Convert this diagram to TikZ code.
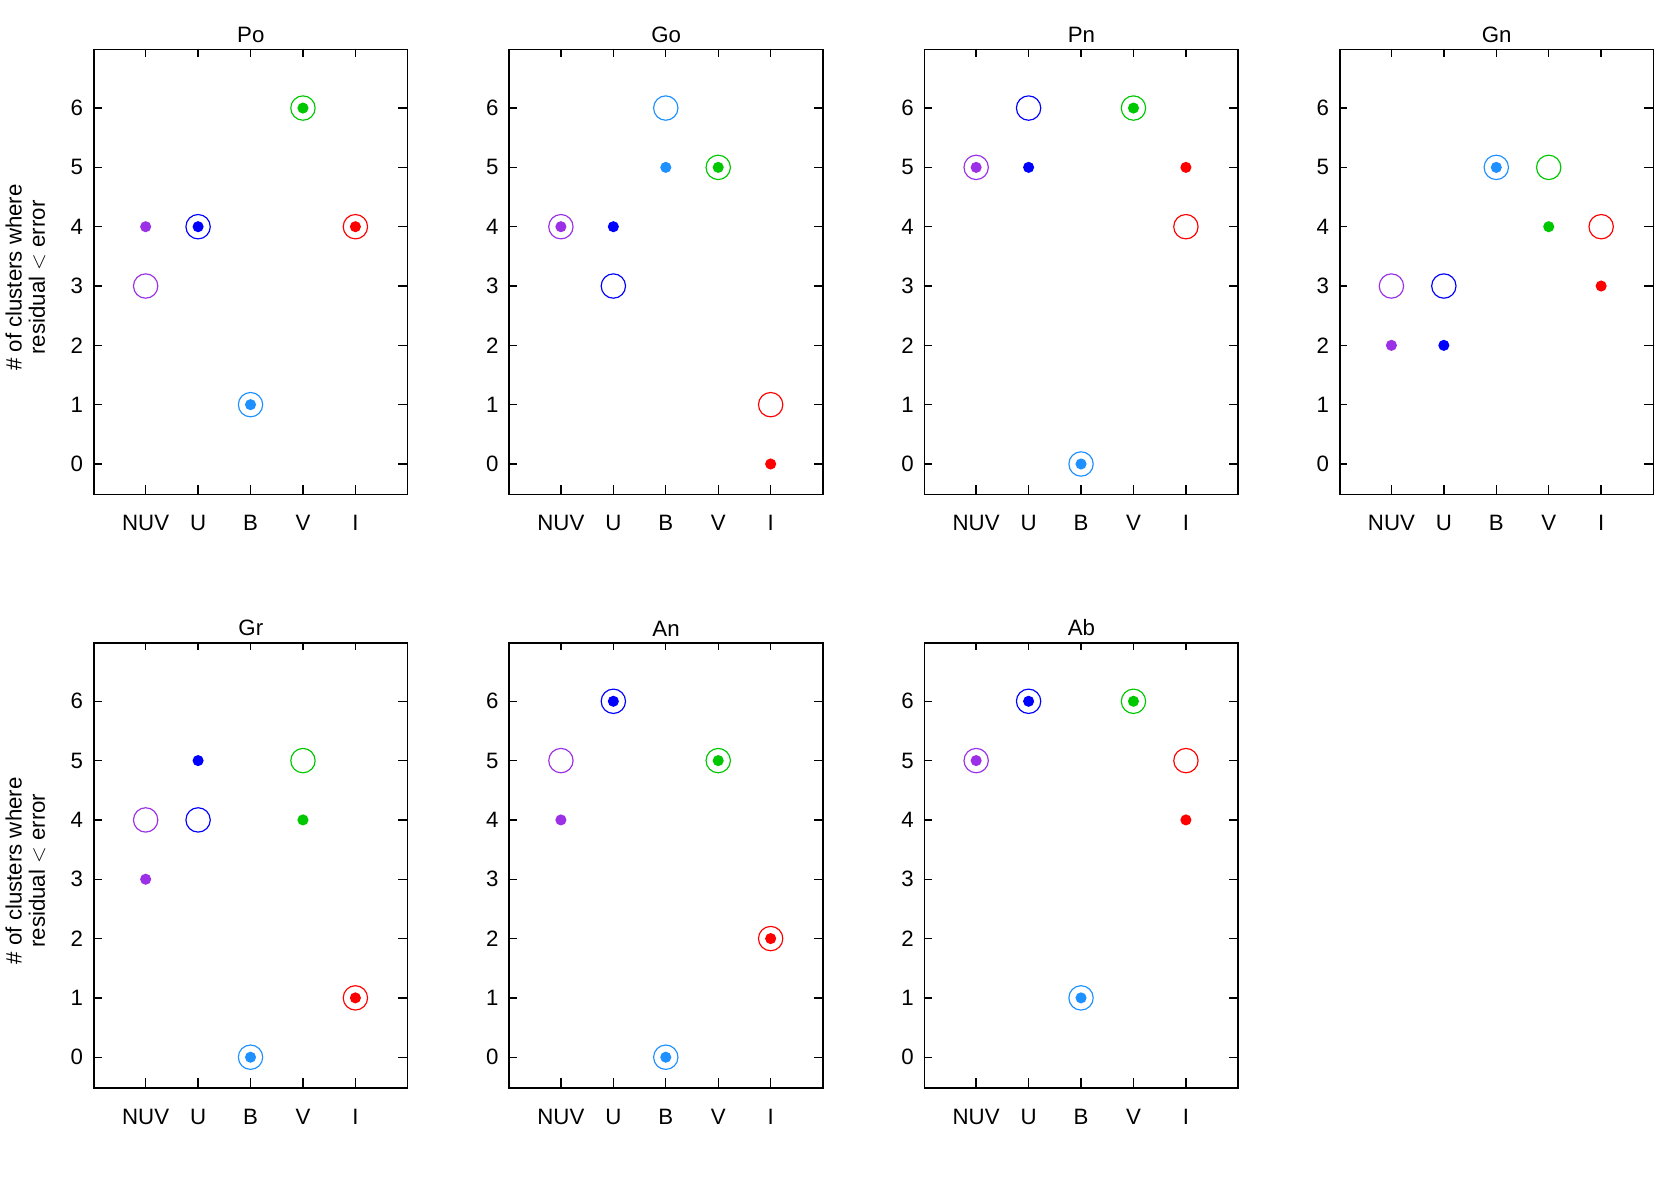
\documentclass[tikz,border=0pt]{standalone}
\usepackage{fontspec}
\setmainfont{Liberation Sans}
\usetikzlibrary{positioning}
\definecolor{cnuv}{RGB}{155,48,230}
\definecolor{cu}{RGB}{0,0,255}
\definecolor{cb}{RGB}{30,144,255}
\definecolor{cv}{RGB}{0,200,0}
\definecolor{ci}{RGB}{255,0,0}
\begin{document}
\begin{tikzpicture}[x=1pt,y=-1pt,font=\fontsize{21}{24}\selectfont]
			% Define styles
			\tikzset{frame/.style={draw, line width=1.6pt},
				tick/.style={line width=1.3pt},
				ring/.style={draw, circle, line width=1.1pt, minimum size=23pt, inner sep=0pt},
				dot/.style={circle, inner sep=0pt, minimum size=10.5pt}}
			\useasboundingbox (0,0) rectangle (1568,1120);
			
			% Macro to draw one panel: title, rings, dots (band/value)
			\def\drawpanel#1#2#3{
				\node[frame, minimum width=296pt, minimum height=420pt, anchor=north west] (box) at (88,46) {};
				\node[above=2pt of box.north] (ttl) {#1};
				\foreach \v in {0,...,6} {
					\draw[tick] (88,438-56*\v) -- +(8,0);
					\draw[tick] (384,438-56*\v) -- +(-8,0);
					\node[anchor=east] (yl-\v) at (82,438-56*\v) {\v};
				}
				\foreach \b/\t in {1/NUV,2/U,3/B,4/V,5/I} {
					\draw[tick] (88+49.5*\b,466) -- +(0,-8);
					\draw[tick] (88+49.5*\b,46) -- +(0,8);
					\node (xl-\b) at (88+49.5*\b,494) {\t};
				}
				\foreach \b/\v/\c in {#2} \node[ring, \c] (r-\b) at (88+49.5*\b,438-56*\v) {};
				\foreach \b/\v/\c in {#3} \node[dot, fill=\c] (d-\b) at (88+49.5*\b,438-56*\v) {};
			}
			\def\ylab{\node[rotate=90, align=center, font=\fontsize{21}{22}\selectfont] (ylab) at (24,262) {\# of clusters where\\residual $<$ error};}
			
			% Row 1
			\begin{scope}[xshift=0pt]
				\drawpanel{Po}{1/3/cnuv,2/4/cu,3/1/cb,4/6/cv,5/4/ci}{1/4/cnuv,2/4/cu,3/1/cb,4/6/cv,5/4/ci}
				\ylab
			\end{scope}
			\begin{scope}[xshift=392pt]
				\drawpanel{Go}{1/4/cnuv,2/3/cu,3/6/cb,4/5/cv,5/1/ci}{1/4/cnuv,2/4/cu,3/5/cb,4/5/cv,5/0/ci}
			\end{scope}
			\begin{scope}[xshift=784pt]
				\drawpanel{Pn}{1/5/cnuv,2/6/cu,3/0/cb,4/6/cv,5/4/ci}{1/5/cnuv,2/5/cu,3/0/cb,4/6/cv,5/5/ci}
			\end{scope}
			\begin{scope}[xshift=1176pt]
				\drawpanel{Gn}{1/3/cnuv,2/3/cu,3/5/cb,4/5/cv,5/4/ci}{1/2/cnuv,2/2/cu,3/5/cb,4/4/cv,5/3/ci}
			\end{scope}
			
			% Row 2
			\begin{scope}[yshift=-560pt]
				\drawpanel{Gr}{1/4/cnuv,2/4/cu,3/0/cb,4/5/cv,5/1/ci}{1/3/cnuv,2/5/cu,3/0/cb,4/4/cv,5/1/ci}
				\ylab
			\end{scope}
			\begin{scope}[xshift=392pt, yshift=-560pt]
				\drawpanel{An}{1/5/cnuv,2/6/cu,3/0/cb,4/5/cv,5/2/ci}{1/4/cnuv,2/6/cu,3/0/cb,4/5/cv,5/2/ci}
			\end{scope}
			\begin{scope}[xshift=784pt, yshift=-560pt]
				\drawpanel{Ab}{1/5/cnuv,2/6/cu,3/1/cb,4/6/cv,5/5/ci}{1/5/cnuv,2/6/cu,3/1/cb,4/6/cv,5/4/ci}
			\end{scope}
		\end{tikzpicture}
\end{document}
